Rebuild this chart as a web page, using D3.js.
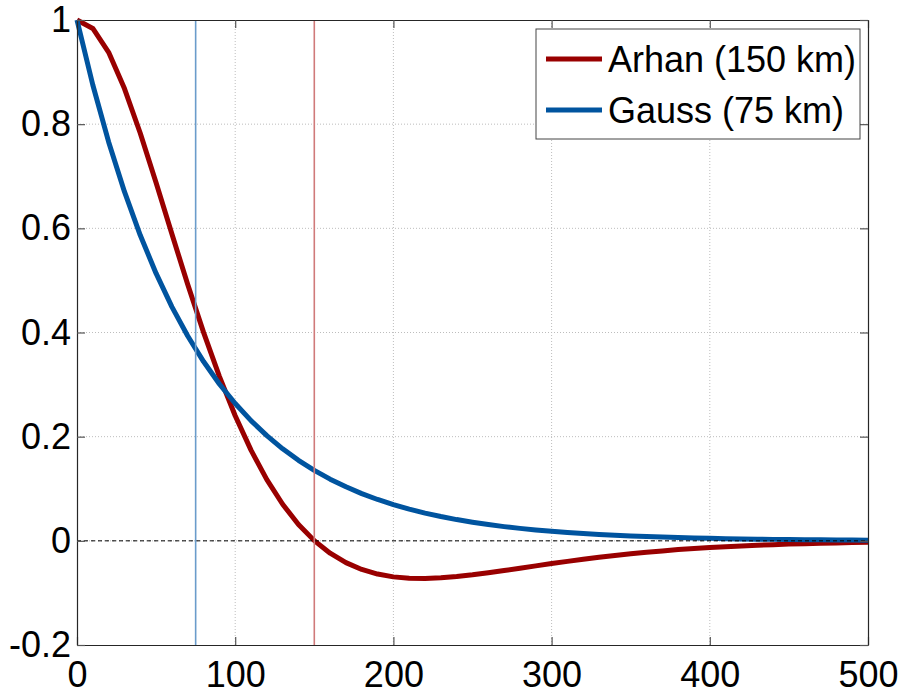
<!DOCTYPE html>
<html>
<head>
<meta charset="utf-8">
<script src="https://cdn.jsdelivr.net/npm/d3@7/dist/d3.min.js"></script>
<style>
  html, body { margin: 0; padding: 0; background: #fff; }
  svg { display: block; font-family: "Liberation Sans", Arial, Helvetica, sans-serif; }
</style>
</head>
<body>
<svg id="chart" width="899" height="693"></svg>
<script>
// ---- data ----
const distanceKm = [0,10,20,30,40,50,60,70,80,90,100,110,120,130,140,150,160,170,180,190,200,
  210,220,230,240,250,260,270,280,290,300,310,320,330,340,350,360,370,380,390,400,
  410,420,430,440,450,460,470,480,490,500];
const arhanValues = [1,0.9838,0.9379,0.8684,0.7826,0.6874,0.5890,0.4921,0.4002,0.3158,0.2402,
  0.1741,0.1175,0.0702,0.0314,0.0004,-0.0237,-0.0418,-0.0549,-0.0638,-0.0692,
  -0.0719,-0.0723,-0.0711,-0.0686,-0.0653,-0.0613,-0.0570,-0.0525,-0.0481,-0.0437,
  -0.0394,-0.0354,-0.0316,-0.0282,-0.0249,-0.0220,-0.0194,-0.0168,-0.0149,-0.0130,
  -0.0113,-0.0098,-0.0085,-0.0073,-0.0063,-0.0054,-0.0047,-0.0040,-0.0034,-0.0029];
const gaussValues = [1,0.8752,0.7659,0.6703,0.5866,0.5134,0.4493,0.3932,0.3442,0.3012,0.2636,
  0.2307,0.2019,0.1767,0.1546,0.1353,0.1184,0.1037,0.0907,0.0794,0.0695,
  0.0608,0.0532,0.0466,0.0408,0.0357,0.0312,0.0273,0.0239,0.0209,0.0183,
  0.0160,0.0140,0.0123,0.0107,0.0094,0.0082,0.0072,0.0063,0.0055,0.0048,
  0.0042,0.0037,0.0032,0.0028,0.0025,0.0022,0.0019,0.0017,0.0015,0.0013];
const seriesNames = ["Arhan (150 km)", "Gauss (75 km)"];
const lengthScales = [150, 75];
const xTicks = [0,100,200,300,400,500];
const yTicks = [-0.2,0,0.2,0.4,0.6,0.8,1];
const xTickLabels = ["0","100","200","300","400","500"];
const yTickLabels = ["-0.2","0","0.2","0.4","0.6","0.8","1"];

// ---- layout ----
const svg = d3.select("#chart");
const pL = 77, pR = 868, pT = 20, pB = 645;
const x = d3.scaleLinear().domain([0, 500]).range([pL, pR]);
const y = d3.scaleLinear().domain([-0.2, 1]).range([pB, pT]);
const colors = ["#990000", "#00549f"];
const refColors = ["#d07a7a", "#6a9ccb"];

// grid
const grid = svg.append("g");
grid.selectAll(".gx").data(xTicks.slice(1, -1)).join("line")
  .attr("x1", d => x(d)).attr("x2", d => x(d)).attr("y1", pT).attr("y2", pB)
  .attr("stroke", "#bdbdbd").attr("stroke-width", 1).attr("stroke-dasharray", "1,2");
grid.selectAll(".gy").data(yTicks.slice(1, -1)).join("line")
  .attr("x1", pL).attr("x2", pR).attr("y1", d => y(d)).attr("y2", d => y(d))
  .attr("stroke", "#bdbdbd").attr("stroke-width", 1).attr("stroke-dasharray", "1,2");

// series
const series = [arhanValues, gaussValues];
const line = d3.line().x((d, i) => x(distanceKm[i])).y(d => y(d));
series.forEach((vals, k) => {
  svg.append("path").datum(vals)
    .attr("d", line).attr("fill", "none")
    .attr("stroke", colors[k]).attr("stroke-width", 5)
    .attr("stroke-linejoin", "round").attr("stroke-linecap", "butt");
});

// zero line
svg.append("line").attr("x1", pL).attr("x2", pR).attr("y1", y(0)).attr("y2", y(0))
  .attr("stroke", "#000").attr("stroke-width", 1).attr("stroke-dasharray", "4,3");

// length-scale markers
lengthScales.forEach((L, k) => {
  svg.append("line").attr("x1", x(L)).attr("x2", x(L)).attr("y1", pT).attr("y2", pB)
    .attr("stroke", refColors[k]).attr("stroke-width", 1.6);
});

// axes box and ticks
const axisColor = "#262626";
const tickLen = 8;
const axB = svg.append("g").attr("transform", `translate(0,${pB})`)
  .call(d3.axisBottom(x).tickValues(xTicks).tickSizeInner(-tickLen).tickSizeOuter(0)
    .tickPadding(16).tickFormat((d, i) => xTickLabels[i]));
const axT = svg.append("g").attr("transform", `translate(0,${pT})`)
  .call(d3.axisTop(x).tickValues(xTicks).tickSizeInner(-tickLen).tickSizeOuter(0).tickFormat(""));
const axL = svg.append("g").attr("transform", `translate(${pL},0)`)
  .call(d3.axisLeft(y).tickValues(yTicks).tickSizeInner(-tickLen).tickSizeOuter(0)
    .tickPadding(6).tickFormat((d, i) => yTickLabels[i]));
const axR = svg.append("g").attr("transform", `translate(${pR},0)`)
  .call(d3.axisRight(y).tickValues(yTicks).tickSizeInner(-tickLen).tickSizeOuter(0).tickFormat(""));
[axB, axT, axL, axR].forEach(a => {
  a.select(".domain").attr("stroke", axisColor).attr("stroke-width", 1.2);
  a.selectAll(".tick line").attr("stroke", "#555").attr("stroke-width", 1.2);
  a.selectAll(".tick text").attr("fill", "#000").style("font-size", "36px")
    .style("font-family", "'Liberation Sans', Arial, sans-serif");
});
axB.selectAll(".tick text").attr("dy", "0.71em");

// legend
const lg = svg.append("g");
lg.append("rect").attr("x", 536).attr("y", 29).attr("width", 324).attr("height", 110)
  .attr("fill", "#fff").attr("stroke", "#444").attr("stroke-width", 1);
seriesNames.forEach((name, k) => {
  const cy = 59 + k * 51;
  lg.append("line").attr("x1", 546).attr("x2", 602).attr("y1", cy).attr("y2", cy)
    .attr("stroke", colors[k]).attr("stroke-width", 5);
  lg.append("text").attr("x", 608).attr("y", cy).attr("dy", "0.35em")
    .style("font-size", "36px").attr("fill", "#000").text(name);
});
</script>
</body>
</html>
